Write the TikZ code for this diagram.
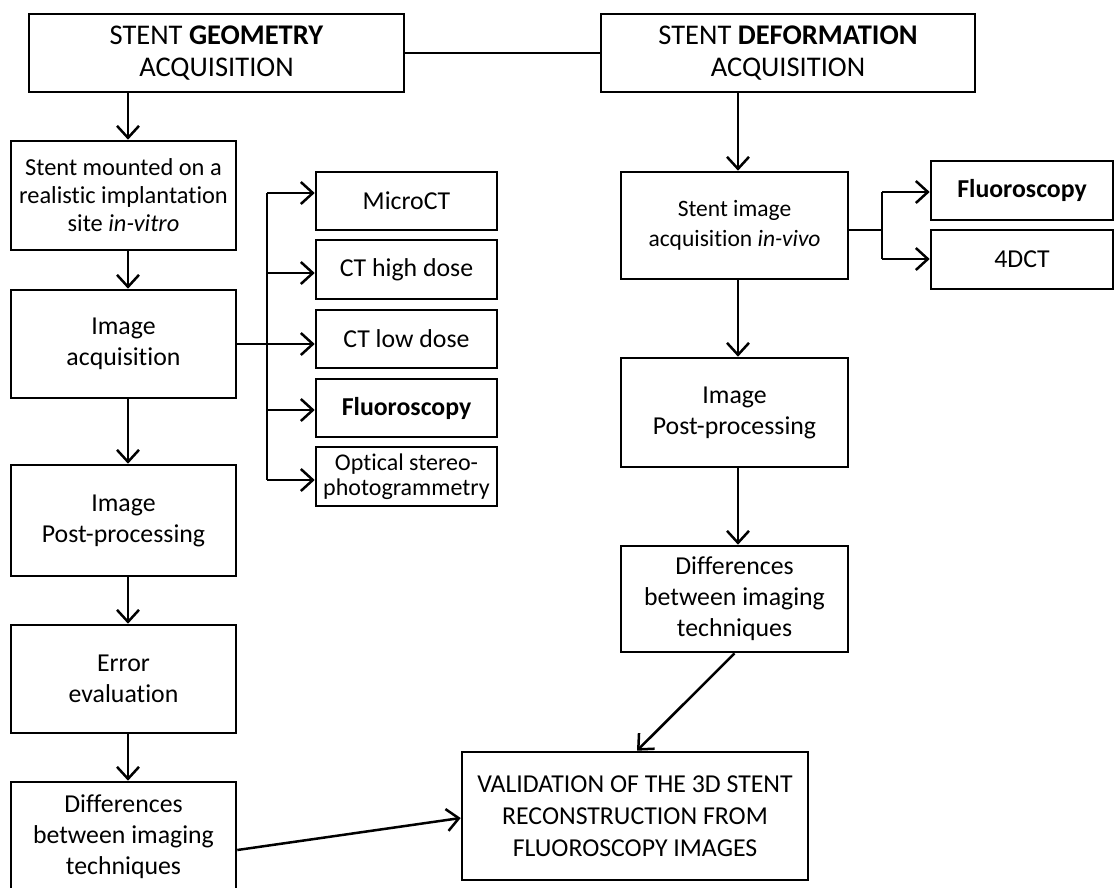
\documentclass[tikz,border=0pt]{standalone}
\usepackage{fontspec}
\setmainfont[Ligatures=NoCommon]{Carlito}
\usetikzlibrary{arrows.meta}
\begin{document}
\begin{tikzpicture}[x=1pt,y=-1pt,
  box/.style={draw, line width=2.6pt, rectangle, align=center, inner sep=0pt,
              font=\fontsize{25.8}{31}\selectfont},
  title/.style={box, font=\fontsize{28.5}{32}\selectfont},
  small/.style={box, font=\fontsize{24}{25}\selectfont},
  arr/.style={line width=2.5pt, -{Straight Barb[length=12pt,width=22pt,line width=2.5pt]}},
  link/.style={line width=2.4pt}]
\useasboundingbox (0,0) rectangle (1114,887);

% headings
\node[title, minimum width=375pt, minimum height=78pt] (geo) at (216.5,53)
  {STENT \textbf{GEOMETRY}\\ACQUISITION};
\node[title, minimum width=374pt, minimum height=78pt] (def) at (788,53)
  {STENT \textbf{DEFORMATION}\\ACQUISITION};

% geometry column
\node[box, minimum width=225pt, minimum height=109pt, font=\fontsize{24.4}{28}\selectfont] (mount) at (123.5,195.5)
  {Stent mounted on a\\realistic implantation\\site \textit{in-vitro}};
\node[box, minimum width=225pt, minimum height=108pt] (acq) at (123.5,344) {Image\\acquisition};
\node[box, minimum width=225pt, minimum height=111pt] (postL) at (123.5,520.5) {Image\\Post-processing};
\node[box, minimum width=225pt, minimum height=108pt] (err) at (123.5,679) {Error\\evaluation};
\node[box, minimum width=225pt, minimum height=109pt] (diffL) at (123.5,836.5)
  {Differences\\between imaging\\techniques};

% imaging techniques
\node[box, minimum width=181pt, minimum height=58pt] (micro) at (406.5,201) {MicroCT};
\node[box, minimum width=181pt, minimum height=59pt] (cthi) at (406.5,269.5) {CT high dose};
\node[box, minimum width=181pt, minimum height=58pt] (ctlo) at (406.5,339) {CT low dose};
\node[box, minimum width=181pt, minimum height=58pt] (fluoL) at (406.5,408) {\textbf{Fluoroscopy}};
\node[small, minimum width=181pt, minimum height=59pt] (optic) at (406.5,476.5)
  {Optical stereo-\\photogrammetry};

% deformation column
\node[box, minimum width=227pt, minimum height=107pt, font=\fontsize{23.5}{30}\selectfont] (siacq) at (734.5,225.5)
  {Stent image\\acquisition \textit{in-vivo}};
\node[box, minimum width=182pt, minimum height=59pt] (fluoR) at (1022,190.5) {\textbf{Fluoroscopy}};
\node[box, minimum width=182pt, minimum height=59pt] (dct) at (1022,259.5) {4DCT};
\node[box, minimum width=227pt, minimum height=109pt] (postR) at (734.5,412.5) {Image\\Post-processing};
\node[box, minimum width=227pt, minimum height=106pt] (diffR) at (734.5,599)
  {Differences\\between imaging\\techniques};

% final box
\node[box, minimum width=346pt, minimum height=128pt, font=\fontsize{25.8}{32}\selectfont] (val) at (635,816)
  {VALIDATION OF THE 3D STENT\\RECONSTRUCTION FROM\\FLUOROSCOPY IMAGES};

% guide coordinates for the vertical flows and the branch buses
\coordinate (lx) at (128,0);
\coordinate (rx) at (738,0);
\coordinate (busL) at (267,0);
\coordinate (busR) at (882,0);

% link between headings
\draw[link] (geo.east) -- (def.west);

% geometry flow
\draw[arr] (geo.south -| lx) -- (mount.north -| lx);
\draw[arr] (mount.south -| lx) -- (acq.north -| lx);
\draw[arr] (acq.south -| lx) -- (postL.north -| lx);
\draw[arr] (postL.south -| lx) -- (err.north -| lx);
\draw[arr] (err.south -| lx) -- (diffL.north -| lx);

% branch to imaging techniques
\draw[arr] (acq.east) -- (ctlo.west |- acq.east);
\draw[link] (busL |- 0,193) -- (busL |- 0,480);
\draw[arr] (busL |- 0,193) -- (micro.west |- 0,193);
\draw[arr] (busL |- 0,273) -- (cthi.west |- 0,273);
\draw[arr] (busL |- 0,410) -- (fluoL.west |- 0,410);
\draw[arr] (busL |- 0,480) -- (optic.west |- 0,480);

% deformation flow
\draw[arr] (def.south -| rx) -- (siacq.north -| rx);
\draw[arr] (siacq.south -| rx) -- (postR.north -| rx);
\draw[arr] (postR.south -| rx) -- (diffR.north -| rx);

% branch to in-vivo techniques
\draw[link] (siacq.east |- 0,230) -- (busR |- 0,230);
\draw[link] (busR |- 0,192) -- (busR |- 0,259);
\draw[arr] (busR |- 0,192) -- (fluoR.west |- 0,192);
\draw[arr] (busR |- 0,259) -- (dct.west |- 0,259);

% into the validation box
\draw[arr] (diffR.south) -- (val.north -| 637,0);
\draw[arr] (diffL.east |- 0,850) -- (val.west |- 0,818);
\end{tikzpicture}
\end{document}
